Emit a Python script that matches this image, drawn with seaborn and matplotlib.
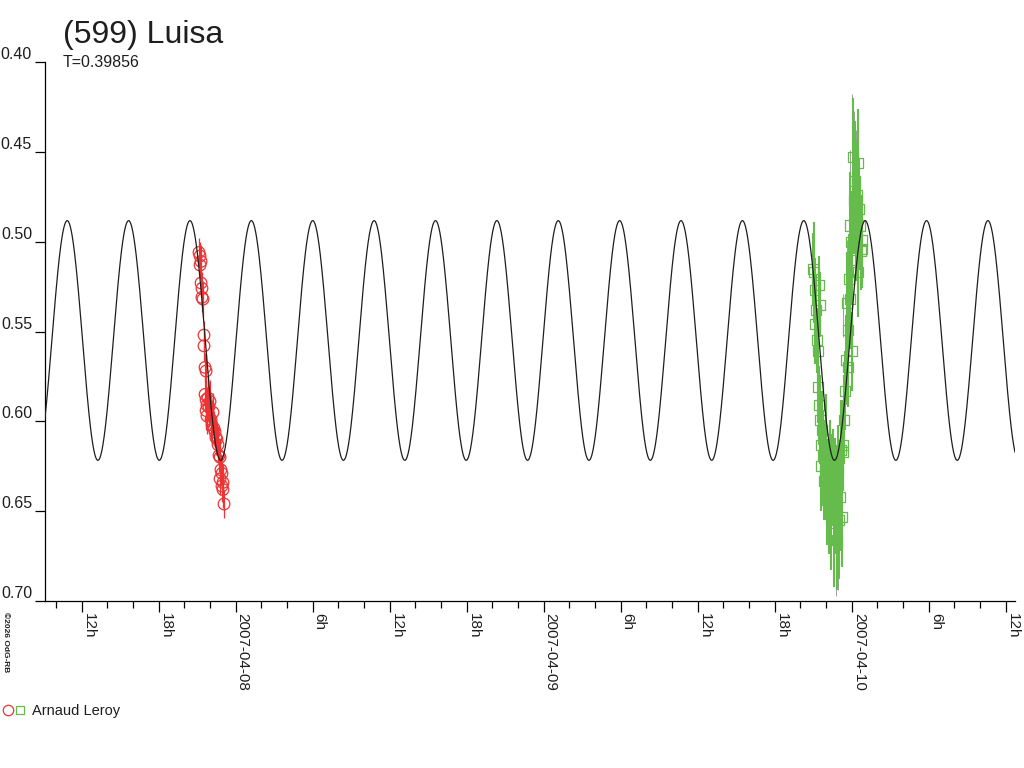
import matplotlib
matplotlib.use("Agg")
from matplotlib import pyplot as plt
from matplotlib.lines import Line2D
from matplotlib.legend_handler import HandlerTuple
import matplotlib.dates as mdates
from matplotlib.ticker import FuncFormatter
import numpy as np
import pandas as pd
import seaborn as sns


TITLE = "(599) Luisa"
PERIOD_DAYS = 0.39856
OBSERVER = "Arnaud Leroy"
CREDIT = "©2026 OdG-RB"

BASE = pd.Timestamp("2007-04-07 00:00")
X_START_H = 9.14      # hours after BASE
X_END_H = 84.72
Y_TOP, Y_BOTTOM = 0.40, 0.70
Y_TICKS = [0.40, 0.45, 0.50, 0.55, 0.60, 0.65, 0.70]

# fitted model (double-peaked, so two cycles per period)
MODEL_MEAN = 0.555
MODEL_AMP = 0.0667
MODEL_PEAK_H = 10.87

# session 1 (red circles): hours after BASE, magnitude, error
red_hours = [21.14, 21.22, 21.30, 21.22, 21.30, 21.37, 21.37, 21.45, 21.53, 21.53,
             21.61, 21.69, 21.61, 21.69, 21.76, 21.69, 21.84, 21.92, 22.00, 21.76,
             22.08, 22.15, 22.23, 22.31, 22.39, 22.46, 22.54, 22.62, 22.70, 22.78,
             22.85, 22.93, 22.78, 23.01, 22.93, 23.01, 23.09]
red_mag = [0.506, 0.508, 0.511, 0.513, 0.523, 0.526, 0.531, 0.532, 0.552, 0.558,
           0.570, 0.572, 0.585, 0.588, 0.591, 0.594, 0.587, 0.592, 0.589, 0.597,
           0.599, 0.602, 0.595, 0.604, 0.606, 0.609, 0.610, 0.613, 0.619, 0.620,
           0.627, 0.629, 0.632, 0.634, 0.636, 0.638, 0.646]
red_err = [0.008, 0.008, 0.009, 0.008, 0.008, 0.009, 0.008, 0.010, 0.008, 0.009,
           0.008, 0.009, 0.010, 0.011, 0.010, 0.011, 0.012, 0.011, 0.012, 0.010,
           0.011, 0.010, 0.011, 0.010, 0.009, 0.010, 0.009, 0.010, 0.009, 0.010,
           0.009, 0.010, 0.009, 0.010, 0.009, 0.010, 0.008]

# session 2 (green squares)
green_hours = [68.98, 69.06, 69.14, 69.14, 69.22, 69.29, 69.37, 69.37, 69.45, 69.45,
               69.53, 69.53, 69.61, 69.61, 69.69, 69.76, 69.84, 69.92, 70.00, 70.08,
               70.16, 70.23, 70.31, 70.39, 70.47, 70.55, 70.62, 70.70, 70.78, 70.86,
               70.94, 71.01, 71.09, 71.17, 71.25, 71.33, 71.33, 71.40, 71.48, 71.56,
               71.64, 71.72, 71.72, 71.79, 71.87, 71.87, 71.95, 72.03, 72.03, 72.11,
               72.18, 72.26, 72.34, 72.42, 72.50, 72.50, 72.57, 72.65, 72.73, 72.81,
               72.81]
green_mag = [0.515, 0.517, 0.527, 0.546, 0.538, 0.555, 0.561, 0.581, 0.524, 0.591,
             0.535, 0.599, 0.613, 0.625, 0.605, 0.619, 0.633, 0.627, 0.610, 0.644,
             0.638, 0.649, 0.621, 0.655, 0.633, 0.626, 0.662, 0.634, 0.646, 0.666,
             0.627, 0.655, 0.642, 0.616, 0.653, 0.613, 0.617, 0.599, 0.583, 0.566,
             0.534, 0.570, 0.549, 0.521, 0.532, 0.491, 0.500, 0.510, 0.561, 0.453,
             0.477, 0.466, 0.494, 0.474, 0.456, 0.517, 0.482, 0.491, 0.505, 0.499,
             0.504]
green_err = [0.020, 0.028, 0.018, 0.022, 0.020, 0.018, 0.022, 0.020, 0.016, 0.022,
             0.018, 0.025, 0.022, 0.025, 0.022, 0.025, 0.022, 0.028, 0.025, 0.025,
             0.028, 0.025, 0.022, 0.028, 0.025, 0.022, 0.030, 0.025, 0.028, 0.028,
             0.025, 0.033, 0.030, 0.028, 0.028, 0.025, 0.022, 0.025, 0.022, 0.025,
             0.028, 0.022, 0.025, 0.025, 0.028, 0.030, 0.028, 0.025, 0.022, 0.033,
             0.030, 0.033, 0.028, 0.030, 0.030, 0.025, 0.028, 0.025, 0.022, 0.025,
             0.022]

# long grey bars seen behind the green session
grey_hours = [72.03, 72.18, 72.34, 71.87, 72.42, 70.78, 70.94, 70.55, 70.00, 71.64, 71.33]
grey_low = [0.418, 0.427, 0.438, 0.449, 0.466, 0.655, 0.666, 0.660, 0.633, 0.499, 0.529]
grey_high = [0.505, 0.494, 0.482, 0.521, 0.510, 0.697, 0.694, 0.685, 0.660, 0.545, 0.553]

RED = "#ec3434"
GREEN = "#66bb4d"
GREY = "#a0a0a0"
INK = "#1e1e1e"
PX = 0.72  # one pixel in points at 100 dpi


def to_time(hours):
    return BASE + pd.to_timedelta(np.asarray(hours, dtype=float), unit="h")


def hour_label(x, pos=None):
    d = mdates.num2date(x)
    if d.hour == 0:
        return d.strftime("%Y-%m-%d")
    return f"{d.hour}h"


def main():
    sns.set_theme(style="white")
    plt.rcParams["font.family"] = ["Liberation Sans", "DejaVu Sans"]

    red = pd.DataFrame({"time": to_time(red_hours), "mag": red_mag, "err": red_err})
    green = pd.DataFrame({"time": to_time(green_hours), "mag": green_mag, "err": green_err})

    model_h = np.linspace(X_START_H, X_END_H, 3000)
    half = PERIOD_DAYS * 24 / 2
    model = pd.DataFrame({
        "time": to_time(model_h),
        "mag": MODEL_MEAN - MODEL_AMP * np.cos(2 * np.pi * (model_h - MODEL_PEAK_H) / half),
    })

    fig = plt.figure(figsize=(10.24, 7.68), dpi=100)
    ax = fig.add_axes([45 / 1024, 1 - 601 / 768, 970 / 1024, 539 / 768])

    # error bars
    ax.vlines(to_time(grey_hours), grey_low, grey_high, color=GREY, lw=PX, zorder=1)
    ax.vlines(green["time"], green["mag"] - green["err"], green["mag"] + green["err"],
              color=GREEN, lw=1.5, zorder=2)
    ax.vlines(red["time"], red["mag"] - red["err"], red["mag"] + red["err"],
              color=RED, lw=0.9, zorder=2)

    sns.scatterplot(data=green, x="time", y="mag", ax=ax, marker="s", s=52,
                    color="none", edgecolor=GREEN, linewidth=0.9, zorder=3)
    sns.scatterplot(data=red, x="time", y="mag", ax=ax, marker="o", s=70,
                    color="none", edgecolor=RED, linewidth=0.9, zorder=3)
    sns.lineplot(data=model, x="time", y="mag", ax=ax, color=INK, lw=0.9, zorder=4)

    ax.set_xlim(to_time([X_START_H])[0], to_time([X_END_H])[0])
    ax.set_ylim(Y_BOTTOM, Y_TOP)
    ax.set_xlabel("")
    ax.set_ylabel("")

    for side in ["top", "right"]:
        ax.spines[side].set_visible(False)
    for side in ["left", "bottom"]:
        ax.spines[side].set_color("black")
        ax.spines[side].set_linewidth(0.9)

    ax.set_yticks(Y_TICKS)
    ax.set_yticklabels([f"{v:.2f}" for v in Y_TICKS])
    ax.tick_params(axis="y", direction="out", length=10 * PX, width=0.9, color="black",
                   pad=3 * PX, labelsize=11.5, labelcolor=INK, left=True)
    for lab in ax.get_yticklabels():
        lab.set_va("bottom")

    ax.xaxis.set_major_locator(mdates.HourLocator(byhour=[0, 6, 12, 18]))
    ax.xaxis.set_minor_locator(mdates.HourLocator(byhour=range(0, 24, 2)))
    ax.xaxis.set_major_formatter(FuncFormatter(hour_label))
    ax.tick_params(axis="x", which="major", direction="out", length=11 * PX, width=0.9,
                   color="black", pad=1, labelsize=11, labelcolor=INK,
                   labelrotation=-90, bottom=True)
    ax.tick_params(axis="x", which="minor", direction="out", length=7 * PX, width=0.9,
                   color="black", bottom=True)
    plt.setp(ax.get_xticklabels(), ha="left", va="top", rotation_mode="default")

    fig.text(63 / 1024, 1 - 43 / 768, TITLE, fontsize=23, color=INK, va="baseline")
    fig.text(63 / 1024, 1 - 67 / 768, f"T={PERIOD_DAYS}", fontsize=11.5, color=INK,
             va="baseline")
    fig.text(2 / 1024, 1 - 612 / 768, CREDIT, fontsize=6, fontweight="bold",
             rotation=-90, ha="left", va="top", color=INK)

    h_red = Line2D([], [], ls="", marker="o", mfc="none", mec=RED, ms=7.5, mew=0.9)
    h_green = Line2D([], [], ls="", marker="s", mfc="none", mec=GREEN, ms=5.5, mew=0.9)
    fig.legend(handles=[(h_red, h_green)], labels=[OBSERVER],
               handler_map={tuple: HandlerTuple(ndivide=None, pad=0.1)},
               loc="center left", bbox_to_anchor=(0, 1 - 711 / 768),
               frameon=False, fontsize=10.5, handlelength=1.5, handletextpad=0.5,
               borderaxespad=0, borderpad=0.2, labelcolor=INK)

    fig.savefig("out.png", dpi=100)


if __name__ == "__main__":
    main()
